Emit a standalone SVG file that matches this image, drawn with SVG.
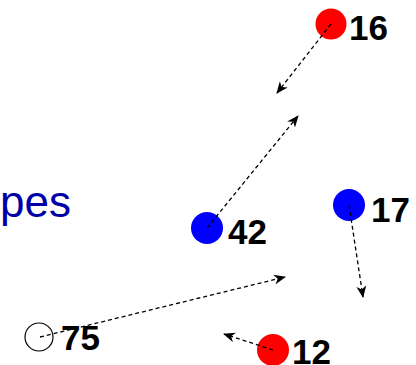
<svg xmlns="http://www.w3.org/2000/svg" width="416" height="365" viewBox="0 0 416 365">
  <style>
    .lbl { font-family: "Liberation Sans", Arial, sans-serif; font-weight: bold; font-size: 35px; fill: #000; }
    .title { font-family: "Liberation Sans", Arial, sans-serif; font-size: 44px; fill: #0000a8; }
    .link { fill: none; stroke: #000; stroke-width: 1.3; stroke-dasharray: 4 3; marker-end: url(#barb); }
  </style>
  <defs>
    <marker id="barb" viewBox="0 0 12 10" refX="11" refY="5" markerWidth="12" markerHeight="10" markerUnits="userSpaceOnUse" orient="auto">
      <path d="M0,0 L12,5 L0,10 L3.5,5 Z" fill="#000"/>
    </marker>
  </defs>

  <rect width="416" height="365" fill="#fff"/>

  <text class="title" x="71" y="217" text-anchor="end">pes</text>

  <g id="node-16">
    <circle cx="331" cy="24" r="15.5" fill="#f00"/>
    <text class="lbl" x="349" y="40">16</text>
  </g>
  <g id="node-42">
    <circle cx="207" cy="228" r="16" fill="#00f"/>
    <text class="lbl" x="228" y="244">42</text>
  </g>
  <g id="node-17">
    <circle cx="349" cy="205" r="16" fill="#00f"/>
    <text class="lbl" x="371" y="222">17</text>
  </g>
  <g id="node-75">
    <circle cx="39" cy="337" r="14" fill="none" stroke="#000" stroke-width="1.2"/>
    <text class="lbl" x="61" y="350">75</text>
  </g>
  <g id="node-12">
    <circle cx="273" cy="350" r="16" fill="#f00"/>
    <text class="lbl" x="292" y="364">12</text>
  </g>

  <g id="connectors">
    <line class="link" x1="331" y1="24" x2="277" y2="93"/>
    <line class="link" x1="207" y1="228" x2="298" y2="116"/>
    <line class="link" x1="349" y1="205" x2="363" y2="297"/>
    <line class="link" x1="40" y1="337" x2="285" y2="277"/>
    <line class="link" x1="273" y1="350" x2="224" y2="334"/>
  </g>
</svg>
